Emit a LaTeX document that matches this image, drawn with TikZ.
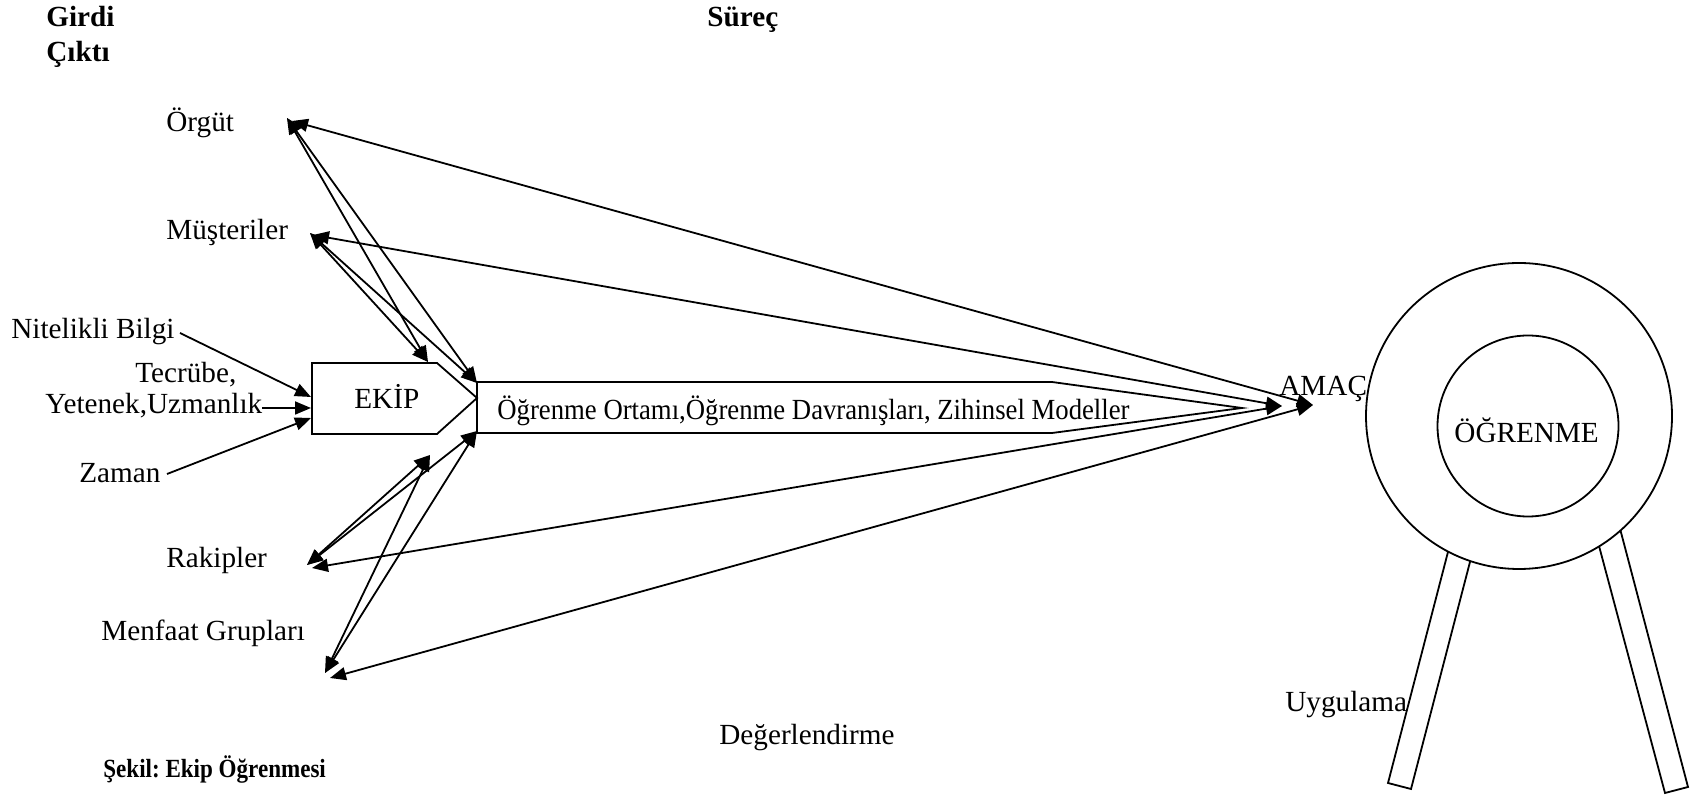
\documentclass[tikz,border=0pt]{standalone}
\usepackage{fontspec}
\setmainfont{Liberation Serif}
\newfontfamily\narrowserif[FakeStretch=0.88]{Liberation Serif}
\newfontfamily\procserif[FakeStretch=0.915]{Liberation Serif}
\usetikzlibrary{arrows.meta}
\frenchspacing
\begin{document}
\begin{tikzpicture}[x=0.5pt,y=-0.5pt,
  lbl/.style={anchor=base west, inner sep=0pt, font=\fontsize{14.6}{17}\selectfont},
  blbl/.style={lbl, font=\fontsize{14.6}{17}\selectfont\bfseries},
  shp/.style={draw, line width=0.9pt, line join=miter},
  conn/.style={draw, line width=0.9pt, {Triangle[length=8pt,width=6.5pt]}-{Triangle[length=8pt,width=6.5pt]}},
  inarr/.style={draw, line width=0.9pt, -{Triangle[length=8pt,width=6.5pt]}}]
\useasboundingbox (0,0) rectangle (1703,795);

% headings
\node[blbl] (girdi) at (46,27) {Girdi};
\node[blbl] (cikti) at (46,62) {Çıktı};
\node[blbl] (surec) at (707,27) {Süreç};
\node[lbl, font=\narrowserif\fontsize{13.1}{16}\selectfont\bfseries] (sekil) at (103,778) {Şekil: Ekip Öğrenmesi};

% left labels
\node[lbl] (orgut) at (166,132) {Örgüt};
\node[lbl] (muster) at (166,240) {Müşteriler};
\node[lbl] (nitel) at (11,339) {Nitelikli Bilgi};
\node[lbl] (tecr) at (135,383) {Tecrübe,};
\node[lbl] (yeten) at (45,414) {Yetenek,Uzmanlık};
\node[lbl] (zaman) at (79,483) {Zaman};
\node[lbl] (rakip) at (166,568) {Rakipler};
\node[lbl] (menf) at (101,641) {Menfaat Grupları};

% EKIP shape
\draw[shp] (312,363) -- (437,363) -- (477,398) -- (437,434) -- (312,434) -- cycle;
\node[lbl] (ekip) at (354,409) {EKİP};

% process arrow
\draw[shp] (477,382) -- (1052,382) -- (1242,408) -- (1052,433) -- (477,433) -- cycle;
\node[lbl, font=\procserif\fontsize{14.6}{17}\selectfont] (proc) at (497,420) {Öğrenme Ortamı,Öğrenme Davranışları, Zihinsel Modeller};

\node[lbl] (amac) at (1279,396) {AMAÇ};

% legs
\draw[shp] (1455.5,523) -- (1388,783) -- (1411,789) -- (1477.5,533);
\draw[shp] (1591,516) -- (1665,793) -- (1688,787) -- (1613,502);
% circles
\node[shp, circle, fill=white, minimum size=153pt, inner sep=0pt] (outer) at (1519,416) {};
\node[shp, circle, minimum size=90.5pt, inner sep=0pt] (inner) at (1528,426) {};
\node[lbl] (ogren) at (1454,443) {ÖĞRENME};

\node[lbl] (uyg) at (1285,712) {Uygulama};
\node[lbl] (degr) at (719,745) {Değerlendirme};

% connection points
\coordinate (orgA) at (287,118);
\coordinate (orgB) at (292,121);
\coordinate (musA) at (310,233);
\coordinate (musB) at (313,235);
\coordinate (rakA) at (307,565);
\coordinate (rakB) at (312,568);
\coordinate (menA) at (325,673);
\coordinate (menB) at (330,678);
\coordinate (ekT) at (428,362);
\coordinate (prT) at (477,383);
\coordinate (ekB) at (430,455);
\coordinate (prB) at (477,431);
\coordinate (amA) at (1282,406);
\coordinate (amB) at (1313,405);
\coordinate (nitE) at (180,333);
\coordinate (yetE) at (262,408);
\coordinate (zamE) at (167,474);
\coordinate (in1) at (311,397);
\coordinate (in2) at (311,408);
\coordinate (in3) at (311,418);

% input arrows
\draw[inarr] (nitE) -- (in1);
\draw[inarr] (yetE) -- (in2);
\draw[inarr] (zamE) -- (in3);

% environment connectors
\draw[conn] (orgA) -- (ekT);
\draw[conn] (orgA) -- (prT);
\draw[conn] (musA) -- (ekT);
\draw[conn] (musA) -- (prT);
\draw[conn] (rakA) -- (ekB);
\draw[conn] (rakA) -- (prB);
\draw[conn] (menA) -- (ekB);
\draw[conn] (menA) -- (prB);
\draw[conn] (orgB) -- (amB);
\draw[conn] (musB) -- (amA);
\draw[conn] (rakB) -- (amA);
\draw[conn] (menB) -- (amB);
\end{tikzpicture}
\end{document}
